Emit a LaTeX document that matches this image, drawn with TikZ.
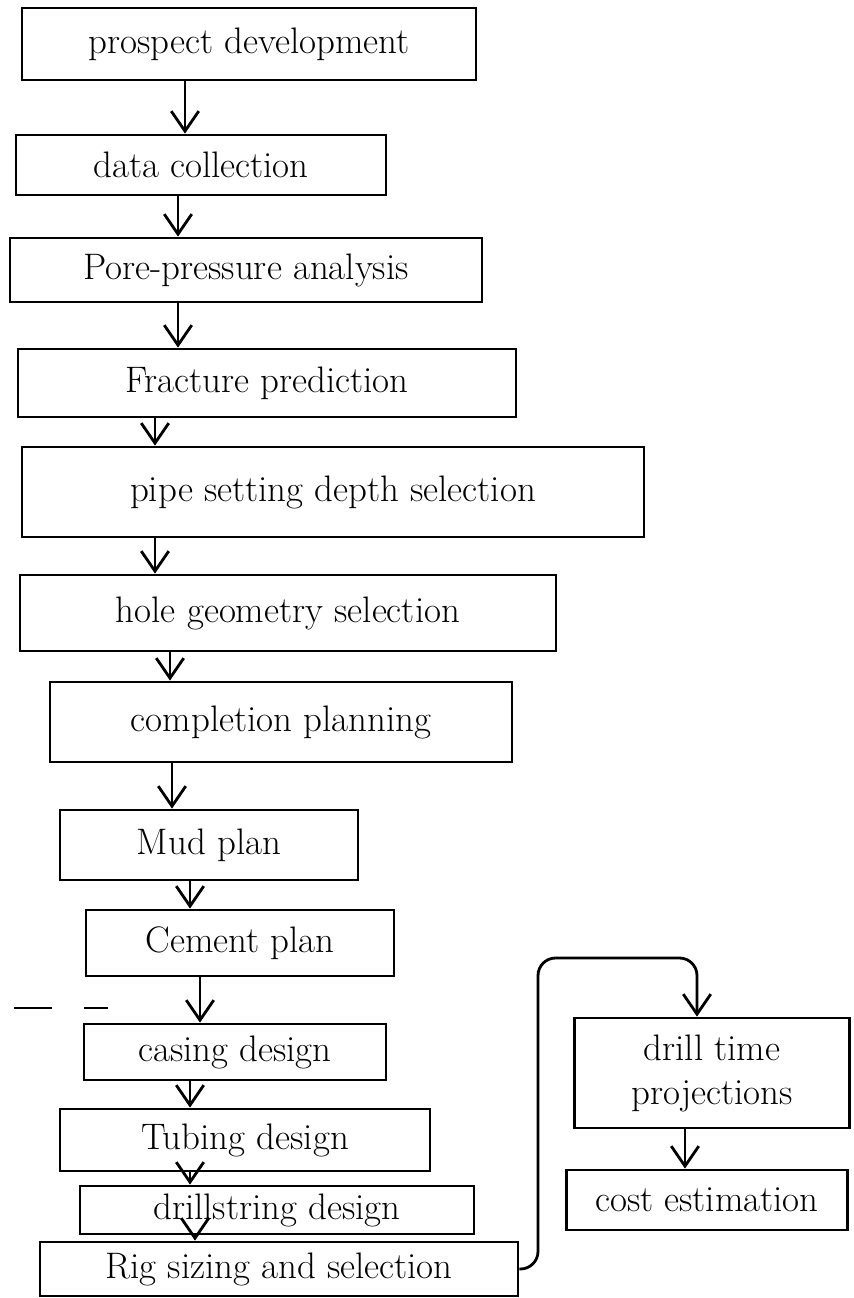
\documentclass[tikz,border=0pt]{standalone}
\usetikzlibrary{arrows.meta}
\tikzset{
  stagebox/.style={draw, line width=1.6pt, inner sep=2pt, font=\fontsize{21}{25}\selectfont},
  flow/.style={->, line width=1.6pt}
}
\begin{document}
\begin{tikzpicture}[>={Straight Barb[length=4mm,width=5.5mm]}, x=0.02cm, y=-0.02cm]
     \useasboundingbox (0,0) rectangle (853,1298);
     % main column
     \node[stagebox, minimum width=9.08cm, minimum height=1.44cm] (pros) at (249,44) {prospect development};
     \node[stagebox, minimum width=7.4cm, minimum height=1.2cm] (data) at (201,165) {data collection};
     \node[stagebox, minimum width=9.44cm, minimum height=1.28cm] (pore) at (246,270) {Pore-pressure analysis};
     \node[stagebox, minimum width=9.96cm, minimum height=1.36cm] (frac) at (267,383) {Fracture prediction};
     \node[stagebox, minimum width=12.44cm, minimum height=1.8cm] (pipe) at (333,492) {pipe setting depth selection};
     \node[stagebox, minimum width=10.72cm, minimum height=1.52cm] (hole) at (288,613) {hole geometry selection};
     \node[stagebox, minimum width=9.24cm, minimum height=1.6cm] (comp) at (281,722) {completion planning};
     \node[stagebox, minimum width=5.96cm, minimum height=1.4cm] (mud) at (209,845) {Mud plan};
     \node[stagebox, minimum width=6.16cm, minimum height=1.32cm] (cem) at (240,943) {Cement plan};
     \node[stagebox, minimum width=6.04cm, minimum height=1.12cm] (cas) at (235,1052) {casing design};
     \node[stagebox, minimum width=7.4cm, minimum height=1.24cm] (tub) at (245,1140) {Tubing design};
     \node[stagebox, minimum width=7.88cm, minimum height=0.96cm] (dstr) at (277,1210) {drillstring design};
     \node[stagebox, minimum width=9.56cm, minimum height=1.08cm] (rig) at (279,1269) {Rig sizing and selection};
     % side column
     \node[stagebox, minimum width=5.5cm, minimum height=2.2cm, align=center] (drill) at (712,1073) {drill time\\projections};
     \node[stagebox, minimum width=5.62cm, minimum height=1.2cm] (cost) at (707,1200) {cost estimation};
     \foreach \a/\b/\x in {pros/data/185, data/pore/178, pore/frac/178, frac/pipe/155,
       pipe/hole/155, hole/comp/170, comp/mud/172, mud/cem/190, cem/cas/200,
       cas/tub/190, tub/dstr/190, dstr/rig/195, drill/cost/685}
     {
         \draw[flow](\a.south -| \x,0)--(\b.north -| \x,0);
     }
     \draw[flow, rounded corners=10](rig.east)-|(538,958)-|(drill.north -| 697,0);
     \draw[line width=1.6pt](14,1008)--(52,1008) (84,1008)--(108,1008);
\end{tikzpicture}
\end{document}
